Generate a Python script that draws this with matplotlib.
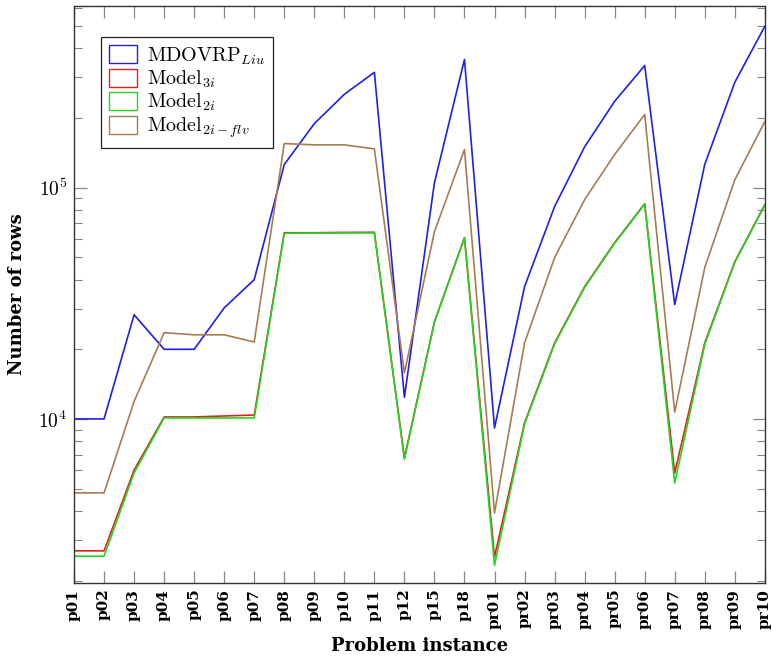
#!/usr/bin/env python3

import matplotlib
matplotlib.use("Agg")
import matplotlib.pyplot as plt
from matplotlib.patches import Patch
from matplotlib.ticker import LogLocator, LogFormatterSciNotation, NullFormatter

instances = ["p01", "p02", "p03", "p04", "p05", "p06", "p07", "p08", "p09", "p10",
             "p11", "p12", "p15", "p18", "pr01", "pr02", "pr03", "pr04", "pr05",
             "pr06", "pr07", "pr08", "pr09", "pr10"]

rows_liu = [10000, 10000, 28200, 20000, 20000, 30200, 40000, 125800, 189000, 253000,
            315000, 12400, 105000, 358000, 9140, 37300, 82800, 150000, 236000,
            337000, 31200, 126000, 285000, 498000]
rows_3i = [2690, 2690, 6010, 10200, 10200, 10300, 10400, 63800, 63800, 64000,
           64100, 6780, 26300, 60800, 2530, 9620, 21300, 37300, 57800,
           85200, 5840, 21300, 47800, 84400]
rows_2i = [2550, 2550, 5840, 10100, 10100, 10100, 10100, 63500, 63600, 63700,
           63700, 6700, 26200, 60500, 2330, 9500, 21100, 37000, 57500,
           84800, 5290, 21000, 47500, 84000]
rows_2i_flv = [4790, 4790, 11900, 23600, 23100, 23100, 21500, 155000, 153000, 153000,
               147000, 15800, 64500, 146000, 3920, 21300, 49800, 88700, 139000,
               207000, 10700, 45100, 108000, 193000]

series = [
    (r"MDOVRP$_{Liu}$", rows_liu, "#1f1fe6"),
    (r"Model$_{3i}$", rows_3i, "#e62020"),
    (r"Model$_{2i}$", rows_2i, "#20d620"),
    (r"Model$_{2i-flv}$", rows_2i_flv, "#a67c52"),
]


def main():
    plt.rcParams["font.family"] = "cmr10"
    plt.rcParams["mathtext.fontset"] = "cm"
    plt.rcParams["axes.formatter.use_mathtext"] = True
    plt.rcParams["axes.unicode_minus"] = False

    fig = plt.figure(figsize=(7.71, 6.56), dpi=100)
    ax = fig.add_axes([0.096, 0.111, 0.896, 0.880])

    x = list(range(len(instances)))
    # brown under the red/green pair, like the original
    for label, values, color in [series[0], series[3], series[1], series[2]]:
        ax.plot(x, values, color=color, linewidth=1.2)

    ax.set_yscale("log")
    ax.set_xlim(0, len(instances) - 1)
    ax.set_ylim(1950, 6.1e5)

    ax.set_xticks(x)
    ax.set_xticklabels(instances, rotation=90, fontfamily="DejaVu Serif",
                       fontweight="bold", fontsize=11)
    ax.yaxis.set_major_locator(LogLocator(base=10))
    ax.yaxis.set_major_formatter(LogFormatterSciNotation(base=10))
    ax.yaxis.set_minor_locator(LogLocator(base=10, subs=range(2, 10)))
    ax.yaxis.set_minor_formatter(NullFormatter())
    ax.tick_params(axis="y", which="major", labelsize=14)

    ax.tick_params(axis="both", which="both", direction="in", top=True, right=True,
                   color="#888888")
    ax.tick_params(axis="x", which="major", length=8.5, width=0.9, pad=4)
    ax.tick_params(axis="y", which="major", length=9, width=0.9, pad=5)
    ax.tick_params(axis="y", which="minor", length=5.5, width=0.8)

    for spine in ax.spines.values():
        spine.set_color("#333333")
        spine.set_linewidth(1.0)

    ax.set_xlabel("Problem instance", fontfamily="DejaVu Serif", fontweight="bold",
                  fontsize=13, labelpad=6)
    ax.set_ylabel("Number of rows", fontfamily="DejaVu Serif", fontweight="bold",
                  fontsize=13, labelpad=9)

    handles = [Patch(facecolor="none", edgecolor=color, linewidth=1.0, label=label)
               for label, _, color in series]
    leg = ax.legend(handles=handles, loc="upper left", bbox_to_anchor=(0.039, 0.946),
                    prop={"family": "cmr10", "size": 14.5}, fancybox=False,
                    edgecolor="#222222", framealpha=1.0, handlelength=1.4,
                    handleheight=1.0, labelspacing=0.1, borderpad=0.4,
                    handletextpad=0.5, borderaxespad=0)
    leg.get_frame().set_linewidth(0.9)

    fig.savefig("out.png", dpi=100)


if __name__ == '__main__':
    main()
